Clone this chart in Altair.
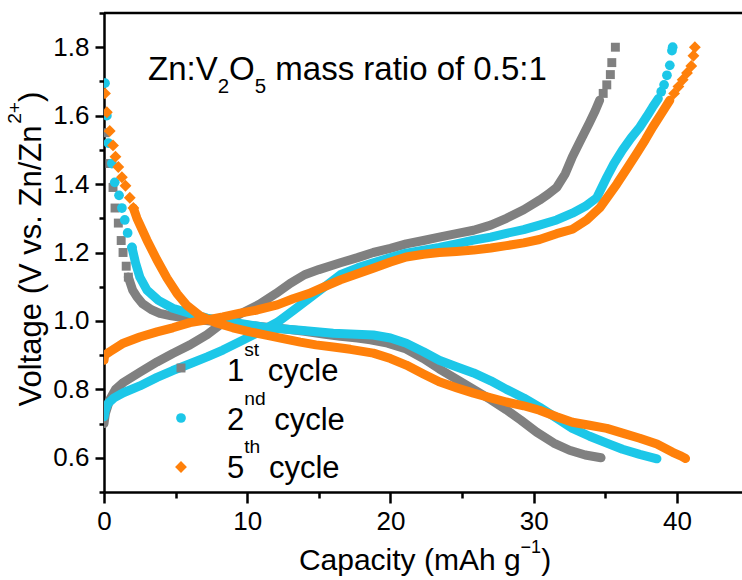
import altair as alt
import pandas as pd

# ---------------------------------------------------------------------------
# Galvanostatic charge/discharge profiles, Zn:V2O5 mass ratio 0.5:1
# capacity in mAh g^-1, voltage in V vs. Zn/Zn2+
# "band" arrays are the densely sampled part of each sweep (drawn as a thick
# trace), "tip"/"head" arrays are the sparse points at the steep ends.
# ---------------------------------------------------------------------------
CYCLES = ["1st", "2nd", "5th"]
COLORS = ["#808080", "#1cc7e8", "#ff800a"]
SHAPES = ["square", "circle", "diamond"]

# 1st cycle
C1_CHG_CAP = [0.0, 0.1, 0.4, 0.8, 1.35, 2.5, 3.7, 4.8, 6.0, 7.2, 8.3, 9.5, 10.9, 12.0, 13.0,
              14.0, 15.0, 16.5, 17.7, 18.8, 20.0, 21.1, 22.3, 23.4, 24.6, 25.8, 27.0, 28.1,
              29.3, 30.4, 31.0, 31.6, 32.2, 32.7, 33.3, 33.9, 34.3, 34.6]
C1_CHG_V = [0.70, 0.73, 0.77, 0.80, 0.82, 0.85, 0.88, 0.905, 0.93, 0.96, 0.995, 1.02, 1.05,
            1.08, 1.11, 1.135, 1.15, 1.17, 1.185, 1.20, 1.212, 1.225, 1.235, 1.245, 1.255,
            1.265, 1.28, 1.30, 1.325, 1.353, 1.37, 1.39, 1.43, 1.48, 1.53, 1.58, 1.615, 1.645]
C1_TIP_CAP = [34.85, 35.1, 35.35, 35.45, 35.7]
C1_TIP_V = [1.665, 1.69, 1.72, 1.755, 1.80]
C1_HEAD_CAP = [0.07, 0.42, 0.63, 0.77, 1.0, 1.2, 1.33, 1.55, 1.7]
C1_HEAD_V = [1.55, 1.46, 1.39, 1.33, 1.286, 1.235, 1.20, 1.16, 1.128]
C1_DIS_CAP = [1.7, 2.0, 2.3, 2.7, 3.3, 3.9, 4.7, 5.5, 6.7, 8.0, 9.5, 11.0, 12.5, 14.0, 15.3,
              16.5, 17.7, 18.6, 19.8, 21.1, 22.3, 23.4, 24.6, 25.8, 27.0, 28.1, 29.1, 30.2,
              31.4, 32.5, 33.6, 34.7]
C1_DIS_V = [1.128, 1.09, 1.07, 1.05, 1.033, 1.022, 1.015, 1.01, 1.003, 0.997, 0.99, 0.983,
            0.977, 0.97, 0.962, 0.955, 0.95, 0.945, 0.935, 0.918, 0.89, 0.86, 0.83, 0.80,
            0.77, 0.74, 0.71, 0.675, 0.643, 0.622, 0.608, 0.60]

# 2nd cycle
C2_CHG_CAP = [0.0, 0.1, 0.3, 0.7, 1.35, 2.5, 3.7, 4.8, 6.0, 7.2, 8.3, 9.5, 10.7, 12.1, 13.2,
              14.3, 15.4, 16.5, 17.7, 18.8, 20.0, 21.1, 22.3, 23.4, 24.6, 25.8, 27.0, 28.1,
              29.3, 30.4, 31.6, 32.7, 33.6, 34.4, 35.1, 35.6, 36.2, 36.8, 37.4, 37.9, 38.3,
              38.7]
C2_CHG_V = [0.72, 0.74, 0.76, 0.775, 0.79, 0.81, 0.835, 0.855, 0.875, 0.895, 0.915, 0.94,
            0.965, 0.996, 1.03, 1.065, 1.10, 1.135, 1.155, 1.17, 1.185, 1.198, 1.207, 1.215,
            1.225, 1.236, 1.245, 1.256, 1.267, 1.28, 1.295, 1.315, 1.335, 1.36, 1.42, 1.46,
            1.50, 1.535, 1.566, 1.598, 1.625, 1.65]
C2_TIP_CAP = [38.9, 39.1, 39.3, 39.5, 39.65, 39.7]
C2_TIP_V = [1.67, 1.69, 1.718, 1.747, 1.79, 1.80]
C2_HEAD_CAP = [0.07, 0.2, 0.3, 0.55, 0.75, 1.05, 1.25, 1.45, 1.65, 1.95]
C2_HEAD_V = [1.695, 1.60, 1.52, 1.46, 1.405, 1.367, 1.33, 1.295, 1.257, 1.215]
C2_DIS_CAP = [1.95, 2.2, 2.5, 3.0, 3.8, 4.8, 6.0, 7.2, 9.0, 11.4, 13.7, 16.0, 18.8, 20.0,
              21.1, 22.3, 23.4, 24.6, 25.8, 27.0, 28.1, 29.3, 30.4, 31.6, 32.7, 33.9, 35.1,
              36.2, 37.4, 38.6]
C2_DIS_V = [1.215, 1.17, 1.128, 1.09, 1.06, 1.037, 1.022, 1.008, 0.996, 0.98, 0.973, 0.964,
            0.959, 0.95, 0.935, 0.91, 0.885, 0.866, 0.848, 0.825, 0.80, 0.775, 0.748, 0.716,
            0.686, 0.663, 0.643, 0.625, 0.61, 0.597]

# 5th cycle
C5_CHG_CAP = [0.0, 0.05, 0.4, 1.35, 2.5, 3.7, 4.8, 6.0, 7.2, 8.3, 9.5, 10.7, 12.1, 13.2, 14.3,
              15.4, 16.5, 17.7, 18.8, 20.0, 21.1, 22.3, 23.4, 24.6, 25.8, 27.0, 28.1, 29.3,
              30.4, 31.6, 32.7, 33.7, 34.6, 35.2, 35.8, 36.5, 37.2, 37.8, 38.3, 38.9, 39.5]
C5_CHG_V = [0.885, 0.90, 0.91, 0.935, 0.953, 0.968, 0.98, 0.995, 1.003, 1.012, 1.023, 1.032,
            1.047, 1.065, 1.08, 1.10, 1.12, 1.138, 1.154, 1.172, 1.187, 1.195, 1.20, 1.203,
            1.207, 1.213, 1.22, 1.228, 1.238, 1.255, 1.268, 1.295, 1.33, 1.365, 1.40, 1.445,
            1.49, 1.53, 1.566, 1.605, 1.645]
C5_TIP_CAP = [39.8, 40.1, 40.4, 40.7, 41.0, 41.15, 41.25]
C5_TIP_V = [1.665, 1.685, 1.705, 1.725, 1.745, 1.775, 1.80]
C5_HEAD_CAP = [0.07, 0.2, 0.4, 0.63, 0.8, 1.0, 1.25, 1.5, 1.8, 2.05]
C5_HEAD_V = [1.665, 1.61, 1.555, 1.513, 1.48, 1.45, 1.42, 1.395, 1.36, 1.33]
C5_DIS_CAP = [2.05, 2.3, 3.0, 3.7, 4.4, 5.1, 5.8, 6.7, 7.8, 9.0, 10.2, 11.4, 12.5, 13.7, 14.8,
              16.0, 17.2, 18.8, 20.0, 21.1, 22.3, 23.4, 24.6, 25.8, 27.0, 28.1, 29.3, 30.4,
              31.6, 32.7, 33.9, 35.1, 36.2, 37.4, 38.6, 39.7, 40.3, 40.6]
C5_DIS_V = [1.33, 1.30, 1.236, 1.178, 1.125, 1.08, 1.045, 1.015, 0.995, 0.98, 0.968, 0.958,
            0.948, 0.938, 0.93, 0.924, 0.917, 0.906, 0.89, 0.871, 0.845, 0.822, 0.805, 0.789,
            0.775, 0.763, 0.752, 0.739, 0.72, 0.704, 0.695, 0.686, 0.672, 0.657, 0.64, 0.616,
            0.605, 0.598]

# ---------------------------------------------------------------------------
# layout
# ---------------------------------------------------------------------------
W, H = 638, 479
PAD = {"left": 104, "top": 13, "right": 0, "bottom": 88}
FONT = "Liberation Sans, Arial, Helvetica, sans-serif"
X_MAX = 44.54
Y_MIN, Y_MAX = 0.5, 1.9
LINE_W = 2.5
BAND_W = 9
MARK_SIZE = {"1st": 80, "2nd": 95, "5th": 140}

# Helvetica/Arial advance widths (1/1000 em) used to chain sub/superscripts
ADV = {" ": 278, "(": 333, ")": 333, "+": 584, ".": 278, "/": 278, ":": 278, "A": 667,
       "C": 722, "O": 778, "V": 667, "Z": 611, "a": 556, "c": 500, "d": 556, "e": 556,
       "f": 278, "g": 556, "h": 556, "i": 222, "l": 222, "m": 833, "n": 556, "o": 556,
       "p": 556, "r": 333, "s": 500, "t": 278, "v": 500, "y": 500, "\u2212": 584}


def text_w(s, size):
    return sum(ADV.get(ch, 556) for ch in s) * size / 1000.0


ONE_ROW = alt.Data(values=[{"k": 0}])


def rich_text(pieces, x0, y0, size, rotated=False):
    """Chain text pieces (text, scale, rise-in-em) starting at (x0, y0).

    Leading blanks are turned into an offset, since SVG collapses them."""
    layers, pos = [], 0.0
    for txt, scale, rise in pieces:
        fs = size * scale
        body = txt.lstrip(" ")
        pos += text_w(txt[: len(txt) - len(body)], fs)
        if rotated:
            x, y, ang = x0 - rise * size, y0 - pos, 270
        else:
            x, y, ang = x0 + pos, y0 - rise * size, 0
        layers.append(
            alt.Chart(ONE_ROW)
            .mark_text(text=body, fontSize=fs, font=FONT, align="left",
                       baseline="alphabetic", angle=ang, color="black")
            .encode(x=alt.value(x), y=alt.value(y))
        )
        pos += text_w(body, fs)
    return layers, pos


def pieces_len(pieces, size):
    return sum(text_w(t, size * s) for t, s, _ in pieces)


# ---------------------------------------------------------------------------
# data tables
# ---------------------------------------------------------------------------
series = {
    "1st": (C1_CHG_CAP, C1_CHG_V, C1_TIP_CAP, C1_TIP_V, C1_HEAD_CAP, C1_HEAD_V, C1_DIS_CAP, C1_DIS_V),
    "2nd": (C2_CHG_CAP, C2_CHG_V, C2_TIP_CAP, C2_TIP_V, C2_HEAD_CAP, C2_HEAD_V, C2_DIS_CAP, C2_DIS_V),
    "5th": (C5_CHG_CAP, C5_CHG_V, C5_TIP_CAP, C5_TIP_V, C5_HEAD_CAP, C5_HEAD_V, C5_DIS_CAP, C5_DIS_V),
}

band_rows, dot_rows = [], []
for cyc, (cc, cv, tc, tv, hc, hv, dc, dv) in series.items():
    for i, (c, v) in enumerate(zip(cc, cv)):
        band_rows.append({"cycle": cyc, "sweep": cyc + "-charge", "i": i, "capacity": c, "voltage": v})
    for i, (c, v) in enumerate(zip(dc, dv)):
        band_rows.append({"cycle": cyc, "sweep": cyc + "-discharge", "i": i, "capacity": c, "voltage": v})
    for c, v in list(zip(tc, tv)) + list(zip(hc, hv)):
        dot_rows.append({"cycle": cyc, "capacity": c, "voltage": v})

bands = pd.DataFrame(band_rows)
dots = pd.DataFrame(dot_rows)

color_scale = alt.Scale(domain=CYCLES, range=COLORS)
shape_scale = alt.Scale(domain=CYCLES, range=SHAPES)

axis_common = dict(
    title=None, grid=False, domainColor="black", domainWidth=LINE_W, tickColor="black",
    tickWidth=LINE_W, labelColor="black", labelFont=FONT, labelFontSize=26,
)

x_enc = alt.X(
    "capacity:Q",
    scale=alt.Scale(domain=[0, X_MAX], nice=False, zero=False),
    axis=alt.Axis(
        values=[0, 5, 10, 15, 20, 25, 30, 35, 40],
        labelExpr="datum.value % 10 === 0 ? datum.label : ''",
        tickSize={"condition": {"test": "datum.value % 10 === 0", "value": 11}, "value": 6},
        labelPadding=5,
        labelFlush=False,
        **axis_common,
    ),
)
y_enc = alt.Y(
    "voltage:Q",
    scale=alt.Scale(domain=[Y_MIN, Y_MAX], nice=False, zero=False),
    axis=alt.Axis(
        values=[0.5, 0.6, 0.7, 0.8, 0.9, 1.0, 1.1, 1.2, 1.3, 1.4, 1.5, 1.6, 1.7, 1.8, 1.9],
        labelExpr="round(datum.value * 10) % 2 === 0 && datum.value < 1.85 ? format(datum.value, '.1f') : ''",
        tickSize={"condition": {"test": "round(datum.value * 10) % 2 === 0", "value": 9}, "value": 5},
        labelPadding=6,
        labelFlush=False,
        **axis_common,
    ),
)

layers = []
for cyc in CYCLES:
    layers.append(
        alt.Chart(bands[bands.cycle == cyc])
        .mark_line(strokeWidth=BAND_W, strokeJoin="round", strokeCap="round", clip=True)
        .encode(
            x=x_enc, y=y_enc, detail="sweep:N", order="i:Q",
            color=alt.Color("cycle:N", scale=color_scale, legend=None),
        )
    )
    layers.append(
        alt.Chart(dots[dots.cycle == cyc])
        .mark_point(filled=True, opacity=1, size=MARK_SIZE[cyc], clip=True)
        .encode(
            x=x_enc, y=y_enc,
            color=alt.Color("cycle:N", scale=color_scale, legend=None),
            shape=alt.Shape("cycle:N", scale=shape_scale, legend=None),
        )
    )

# top frame line
layers.append(
    alt.Chart(ONE_ROW).mark_rule(color="black", strokeWidth=LINE_W)
    .encode(x=alt.value(0), x2=alt.value(W), y=alt.value(0))
)

# annotation: Zn:V2O5 mass ratio of 0.5:1
ANN_SIZE = 33
ann, _ = rich_text(
    [("Zn:V", 1, 0), ("2", 0.62, -0.4), ("O", 1, 0), ("5", 0.62, -0.4),
     (" mass ratio of 0.5:1", 1, 0)],
    44, 67, ANN_SIZE,
)
layers += ann

# legend
LEG_SIZE = 31
LEG_NUM = ["1", "2", "5"]
LEG_SUP = ["st", "nd", "th"]
LEG_SYM_Y = [355, 405, 454]
LEG_TXT_Y = [368, 417, 465]
for k, cyc in enumerate(CYCLES):
    layers.append(
        alt.Chart(ONE_ROW)
        .mark_point(shape=SHAPES[k], filled=True, opacity=1, size=MARK_SIZE[cyc], color=COLORS[k])
        .encode(x=alt.value(77), y=alt.value(LEG_SYM_Y[k]))
    )
    row, _ = rich_text(
        [(LEG_NUM[k], 1, 0), (LEG_SUP[k], 0.62, 0.8), (" cycle", 1, 0)],
        123, LEG_TXT_Y[k], LEG_SIZE,
    )
    layers += row

# axis titles
XT_SIZE = 30
xt_pieces = [("Capacity (mAh g", 1, 0), ("\u22121", 0.6, 0.58), (")", 1, 0)]
xt_len = pieces_len(xt_pieces, XT_SIZE)
xt, _ = rich_text(xt_pieces, 425 - 104 - xt_len / 2, 557, XT_SIZE)
layers += xt

YT_SIZE = 31
yt_pieces = [("Voltage (V vs. Zn/Zn", 1, 0), ("2+", 0.62, 0.66), (")", 1, 0)]
yt_len = pieces_len(yt_pieces, YT_SIZE)
yt, _ = rich_text(yt_pieces, 41 - 104, 249 - 13 + yt_len / 2, YT_SIZE, rotated=True)
layers += yt

chart = (
    alt.layer(*layers)
    .properties(width=W, height=H, autosize=alt.AutoSizeParams(type="none"), padding=PAD)
    .configure_view(stroke=None)
    .configure(background="white")
)

chart.save("out.html", embed_options={"renderer": "svg", "actions": False})
